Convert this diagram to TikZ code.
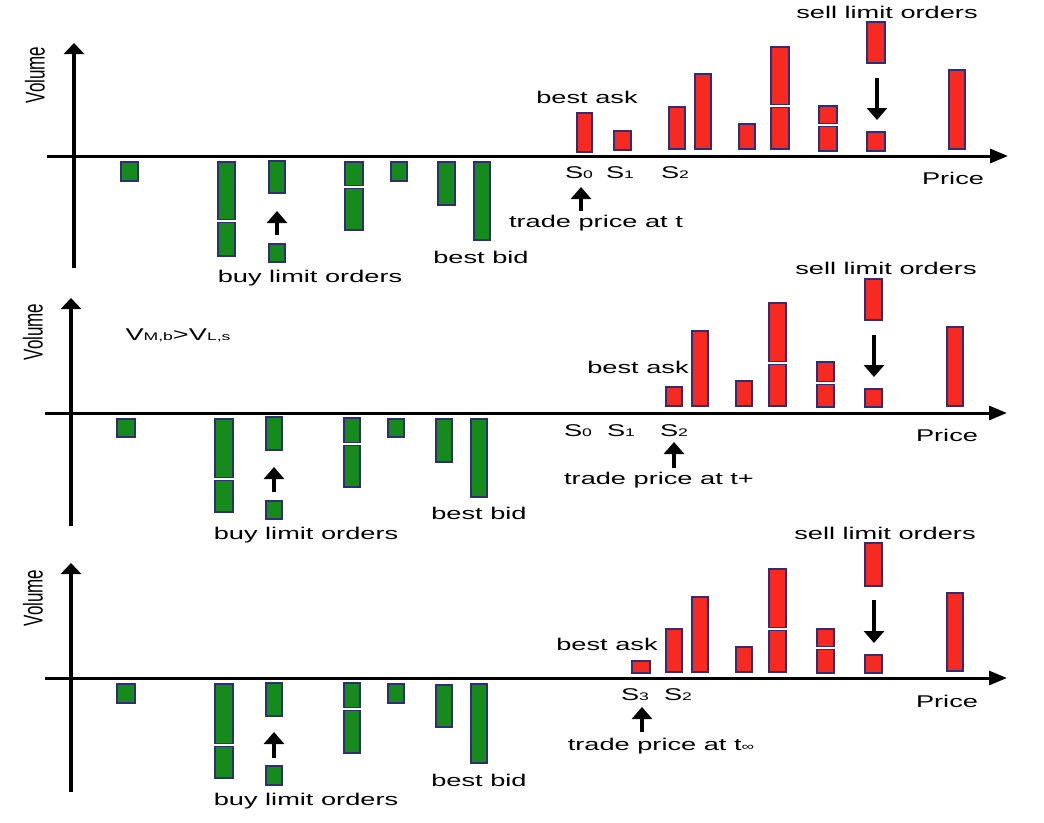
\documentclass[tikz,border=0pt]{standalone}
\usepackage{fontspec}
\setmainfont{Liberation Sans}[FakeStretch=1.6]
\newfontfamily\volfont{Liberation Sans}
\usetikzlibrary{arrows.meta}
\definecolor{askred}{RGB}{246,42,32}
\definecolor{bidgreen}{RGB}{22,138,26}
\definecolor{barline}{RGB}{45,45,120}
\newcommand\sm[1]{{\fontsize{11}{11}\selectfont #1}}
\newcommand\volume{\scalebox{1.6}[1]{\rotatebox{90}{\volfont\fontsize{17}{20}\selectfont Volume}}}
\begin{document}
\begin{tikzpicture}[x=1pt,y=-1pt,
  haxis/.style={line width=3pt,-{Triangle[length=18pt,width=14pt]}},
  vaxis/.style={line width=4.3pt,-{Triangle[length=11pt,width=20pt]}},
  pointer/.style={line width=4.5pt,-{Triangle[length=12pt,width=20pt]}},
  ask/.style={draw=barline,fill=askred,line width=1.5pt},
  bid/.style={draw=barline,fill=bidgreen,line width=1.5pt},
  lbl/.style={inner sep=0pt,font=\fontsize{17}{20}\selectfont}]
\useasboundingbox (0,0) rectangle (1044,822);

% ================= Panel 1 =================
\coordinate (v1b) at (74,268); \coordinate (v1t) at (74,43);
\coordinate (h1l) at (47,156); \coordinate (h1r) at (1008,156);
\draw[vaxis] (v1b) -- (v1t);
\draw[haxis] (h1l) -- (h1r);
\node[inner sep=0pt] (vol1) at (35,75) {\volume};
\foreach \a/\b/\c/\d in {121/162/138/181, 218/162/235/219.5, 218/222.5/235/256,
  269/161/285/193, 269/244/285/262, 345/162/363/185.5, 345/188.5/363/230,
  391/162/407/181, 438/162/455/205, 474/162/490/240}
  \draw[bid] (\a,\b) rectangle (\c,\d);
\foreach \a/\b/\c/\d in {577/113/592/152, 614/131/631/150, 669/107/685/149,
  695/74/711/149, 739/124/755/149, 771/47/789/104.5, 771/107.5/789/149,
  819/106/837/123.5, 819/126.5/837/151, 867/132/885/151, 867/22/885/63,
  949/70/965/149}
  \draw[ask] (\a,\b) rectangle (\c,\d);
\coordinate (b1s) at (277,235); \coordinate (b1e) at (277,211);
\coordinate (s1s) at (877,78);  \coordinate (s1e) at (877,120);
\coordinate (t1s) at (581,211); \coordinate (t1e) at (581,187);
\draw[pointer] (b1s) -- (b1e);
\draw[pointer] (s1s) -- (s1e);
\draw[pointer] (t1s) -- (t1e);
\node[lbl] (sell1) at (887,12) {sell limit orders};
\node[lbl] (ask1) at (587,97) {best ask};
\node[lbl] (s10) at (579,173) {S\sm{0}};
\node[lbl] (s11) at (620,173) {S\sm{1}};
\node[lbl] (s12) at (675,173) {S\sm{2}};
\node[lbl] (tp1) at (596,223) {trade price at t};
\node[lbl] (price1) at (953,178) {Price};
\node[lbl] (buy1) at (310,278) {buy limit orders};
\node[lbl] (bid1) at (481,257) {best bid};

% ================= Panel 2 =================
\coordinate (v2b) at (71,526); \coordinate (v2t) at (71,298);
\coordinate (h2l) at (45,413); \coordinate (h2r) at (1007,413);
\draw[vaxis] (v2b) -- (v2t);
\draw[haxis] (h2l) -- (h2r);
\node[inner sep=0pt] (vol2) at (33,332) {\volume};
\node[lbl] (cond) at (178,335) {V\sm{M,b}>V\sm{L,s}};
\foreach \a/\b/\c/\d in {117/419/135/437, 215/419/233/477.5, 215/480.5/233/512,
  266/417/282/450, 266/501/282/519, 344/418/360/442.5, 344/445.5/360/487,
  388/419/404/437, 436/419/452/462, 471/419/487/497}
  \draw[bid] (\a,\b) rectangle (\c,\d);
\foreach \a/\b/\c/\d in {666/387/682/406, 692/331/708/406, 736/381/752/406,
  769/303/786/361.5, 769/364.5/786/406, 817/362/834/381.5, 817/384.5/834/407,
  865/389/882/407, 865/279/882/320, 947/327/963/406}
  \draw[ask] (\a,\b) rectangle (\c,\d);
\coordinate (b2s) at (274,492); \coordinate (b2e) at (274,467);
\coordinate (s2s) at (874,335); \coordinate (s2e) at (874,377);
\coordinate (t2s) at (674,468); \coordinate (t2e) at (674,442);
\draw[pointer] (b2s) -- (b2e);
\draw[pointer] (s2s) -- (s2e);
\draw[pointer] (t2s) -- (t2e);
\node[lbl] (sell2) at (886,268) {sell limit orders};
\node[lbl] (ask2) at (638,367) {best ask};
\node[lbl] (s20) at (578,431) {S\sm{0}};
\node[lbl] (s21) at (621,431) {S\sm{1}};
\node[lbl] (s22) at (674,431) {S\sm{2}};
\node[lbl] (tp2) at (659,480) {trade price at t+};
\node[lbl] (price2) at (947,435) {Price};
\node[lbl] (buy2) at (306,535) {buy limit orders};
\node[lbl] (bid2) at (479,513) {best bid};

% ================= Panel 3 =================
\coordinate (v3b) at (71,792); \coordinate (v3t) at (71,563);
\coordinate (h3l) at (45,678); \coordinate (h3r) at (1007,678);
\draw[vaxis] (v3b) -- (v3t);
\draw[haxis] (h3l) -- (h3r);
\node[inner sep=0pt] (vol3) at (33,598) {\volume};
\foreach \a/\b/\c/\d in {117/684/135/703, 215/684/233/743.5, 215/746.5/233/778,
  266/683/282/716, 266/766/282/785, 344/683/360/707.5, 344/710.5/360/753,
  388/684/404/703, 436/685/452/727, 471/684/487/763}
  \draw[bid] (\a,\b) rectangle (\c,\d);
\foreach \a/\b/\c/\d in {632/661/650/673, 666/629/682/672, 692/597/708/672,
  736/647/752/672, 769/569/786/627.5, 769/630.5/786/672, 817/629/834/646.5,
  817/649.5/834/673, 865/655/882/673, 865/543/882/586, 947/593/963/671}
  \draw[ask] (\a,\b) rectangle (\c,\d);
\coordinate (b3s) at (274,758); \coordinate (b3e) at (274,732);
\coordinate (s3s) at (874,600); \coordinate (s3e) at (874,643);
\coordinate (t3s) at (642,732); \coordinate (t3e) at (642,707);
\draw[pointer] (b3s) -- (b3e);
\draw[pointer] (s3s) -- (s3e);
\draw[pointer] (t3s) -- (t3e);
\node[lbl] (sell3) at (885,533) {sell limit orders};
\node[lbl] (ask3) at (607,644) {best ask};
\node[lbl] (s33) at (635,695) {S\sm{3}};
\node[lbl] (s32) at (678,695) {S\sm{2}};
\node[lbl] (tp3) at (661,746) {trade price at t\sm{∞}};
\node[lbl] (price3) at (947,701) {Price};
\node[lbl] (buy3) at (306,801) {buy limit orders};
\node[lbl] (bid3) at (479,780) {best bid};
\end{tikzpicture}
\end{document}
